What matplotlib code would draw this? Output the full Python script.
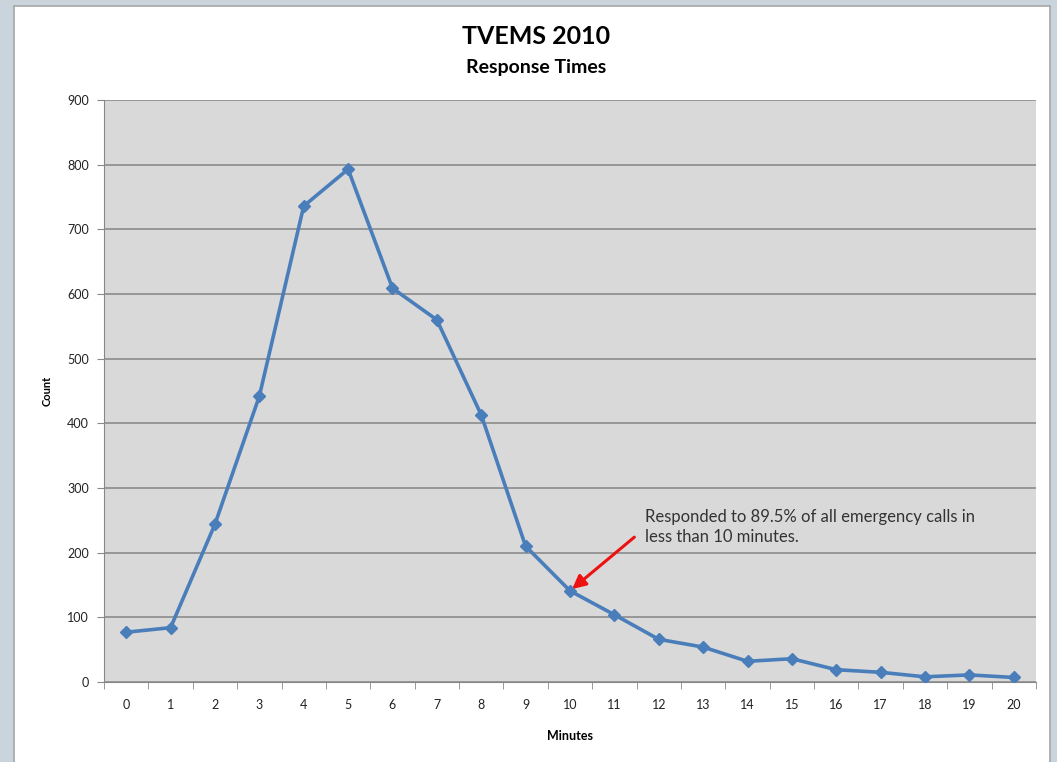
import matplotlib.pyplot as plt
from matplotlib.patches import Rectangle

plt.rcParams['font.family'] = ['Lato', 'DejaVu Sans']

minutes = list(range(21))
counts = [77, 84, 244, 442, 736, 793, 609, 560, 413, 210, 141,
          104, 66, 54, 32, 36, 19, 15, 8, 11, 7]

fig = plt.figure(figsize=(10.57, 7.62), dpi=100)
fig.patch.set_facecolor('#c9d4dc')

# white chart area with thin gray frame, kept behind the axes
fig.patches.append(Rectangle((14 / 1057, -0.01), (1050 - 14) / 1057, (762 - 6) / 762 + 0.01,
                             transform=fig.transFigure, facecolor='white',
                             edgecolor='#a6a6a6', linewidth=1.2, zorder=-5))

ax = fig.add_axes([104 / 1057, 1 - 682 / 762, (1036 - 104) / 1057, (682 - 100) / 762])
ax.set_facecolor('#d9d9d9')

ax.plot(minutes, counts, color='#4a7ebb', linewidth=2.6, marker='D',
        markersize=6, markerfacecolor='#4a7ebb', markeredgecolor='#4a7ebb', zorder=3)

ax.set_xlim(-0.5, 20.5)
ax.set_ylim(0, 900)
ax.set_yticks(range(0, 901, 100))
ax.set_xticks(minutes)
ax.set_xticks([i - 0.5 for i in range(22)], minor=True)
ax.tick_params(axis='x', which='major', length=0, pad=12, labelsize=9)
ax.tick_params(axis='x', which='minor', length=5, color='#888888', direction='out')
ax.tick_params(axis='y', length=5, color='#888888', labelsize=9, pad=6)
for lab in ax.get_yticklabels() + ax.get_xticklabels():
    lab.set_color('#222222')

ax.grid(axis='y', color='#8c8c8c', linewidth=1.2)
ax.set_axisbelow(True)
for side in ['top', 'right']:
    ax.spines[side].set_visible(False)
ax.spines['left'].set_color('#888888')
ax.spines['bottom'].set_color('#888888')

ax.set_xlabel('Minutes', fontsize=9, fontweight='bold', labelpad=14)
ax.set_ylabel('Count', fontsize=8, fontweight='bold', labelpad=10)

fig.text(536 / 1057, 1 - 36 / 762, 'TVEMS 2010', ha='center', va='center',
         fontsize=18, fontweight='bold')
fig.text(536 / 1057, 1 - 68 / 762, 'Response Times', ha='center', va='center',
         fontsize=14, fontweight='bold')

ax.annotate('', xy=(10, counts[10]), xytext=(11.45, 224),
            arrowprops=dict(arrowstyle='-|>', color='#ee1111', lw=2.2,
                            mutation_scale=20, shrinkA=0, shrinkB=2))
ax.text(11.69, 268, 'Responded to 89.5% of all emergency calls in\nless than 10 minutes.',
        ha='left', va='top', fontsize=12, color='#333333', linespacing=1.35)

fig.savefig('out.png', dpi=100, facecolor=fig.get_facecolor())
